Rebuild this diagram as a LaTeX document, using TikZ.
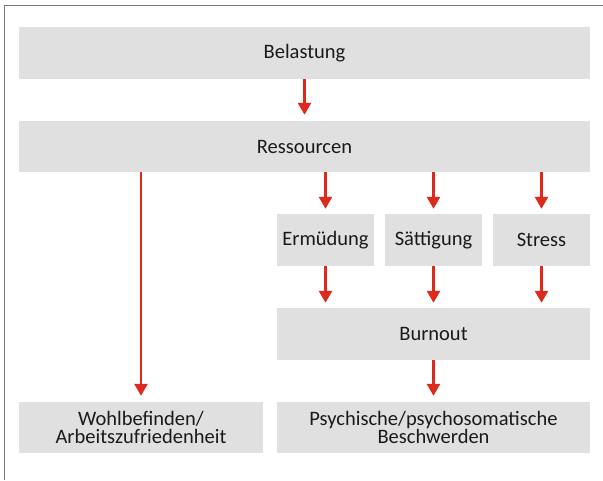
\documentclass[tikz,border=0pt]{standalone}
\usepackage{fontspec}
\setmainfont{Carlito}
\usetikzlibrary{arrows.meta}
\definecolor{boxgray}{HTML}{E0E0E0}
\definecolor{arrred}{HTML}{DC2A1C}
\definecolor{framegray}{HTML}{7A7A7A}
\definecolor{txt}{HTML}{1A1A1A}
\tikzset{
  box/.style={fill=boxgray, inner sep=0pt, text=txt, align=center,
    font=\fontsize{20.5pt}{18.5pt}\selectfont, minimum height=52pt},
  arr/.style={draw=arrred, line width=2.6pt,
    -{Triangle[width=13pt,length=12pt]}, shorten >=0pt}
}
\begin{document}
\begin{tikzpicture}[x=1pt,y=-1pt]
\useasboundingbox (0,0) rectangle (603,480);
% frame (top and left)
\draw[framegray, line width=1.8pt] (4.5,480) -- (4.5,5.5) -- (603,5.5);
% boxes
\node[box, minimum width=571pt] (bel) at (304.5,53) {Belastung};
\node[box, minimum width=571pt, minimum height=51pt] (res) at (304.5,146.5) {Ressourcen};
\node[box, minimum width=97pt] (erm) at (325.5,240) {Ermüdung};
\node[box, minimum width=97pt] (sat) at (433.5,240) {Sättigung};
\node[box, minimum width=97pt] (str) at (541.5,240) {Stress};
\node[box, minimum width=313pt] (bur) at (433.5,334) {Burnout};
\node[box, minimum width=244pt, minimum height=51pt] (woh) at (141,427.5) {Wohlbefinden/\\Arbeitszufriedenheit};
\node[box, minimum width=313pt, minimum height=51pt] (psy) at (433.5,427.5) {Psychische/psychosomatische\\Beschwerden};
% arrows
\draw[arr] (bel.south) -- ([yshift=6pt]res.north);
\draw[arr] (res.south -| woh.north) -- ([yshift=6pt]woh.north);
\draw[arr] (res.south -| erm.north) -- ([yshift=5pt]erm.north);
\draw[arr] (res.south -| sat.north) -- ([yshift=5pt]sat.north);
\draw[arr] (res.south -| str.north) -- ([yshift=5pt]str.north);
\draw[arr] (erm.south) -- ([yshift=5pt]bur.north -| erm.south);
\draw[arr] (sat.south) -- ([yshift=5pt]bur.north -| sat.south);
\draw[arr] (str.south) -- ([yshift=5pt]bur.north -| str.south);
\draw[arr] (bur.south) -- ([yshift=6pt]psy.north);
\end{tikzpicture}
\end{document}
